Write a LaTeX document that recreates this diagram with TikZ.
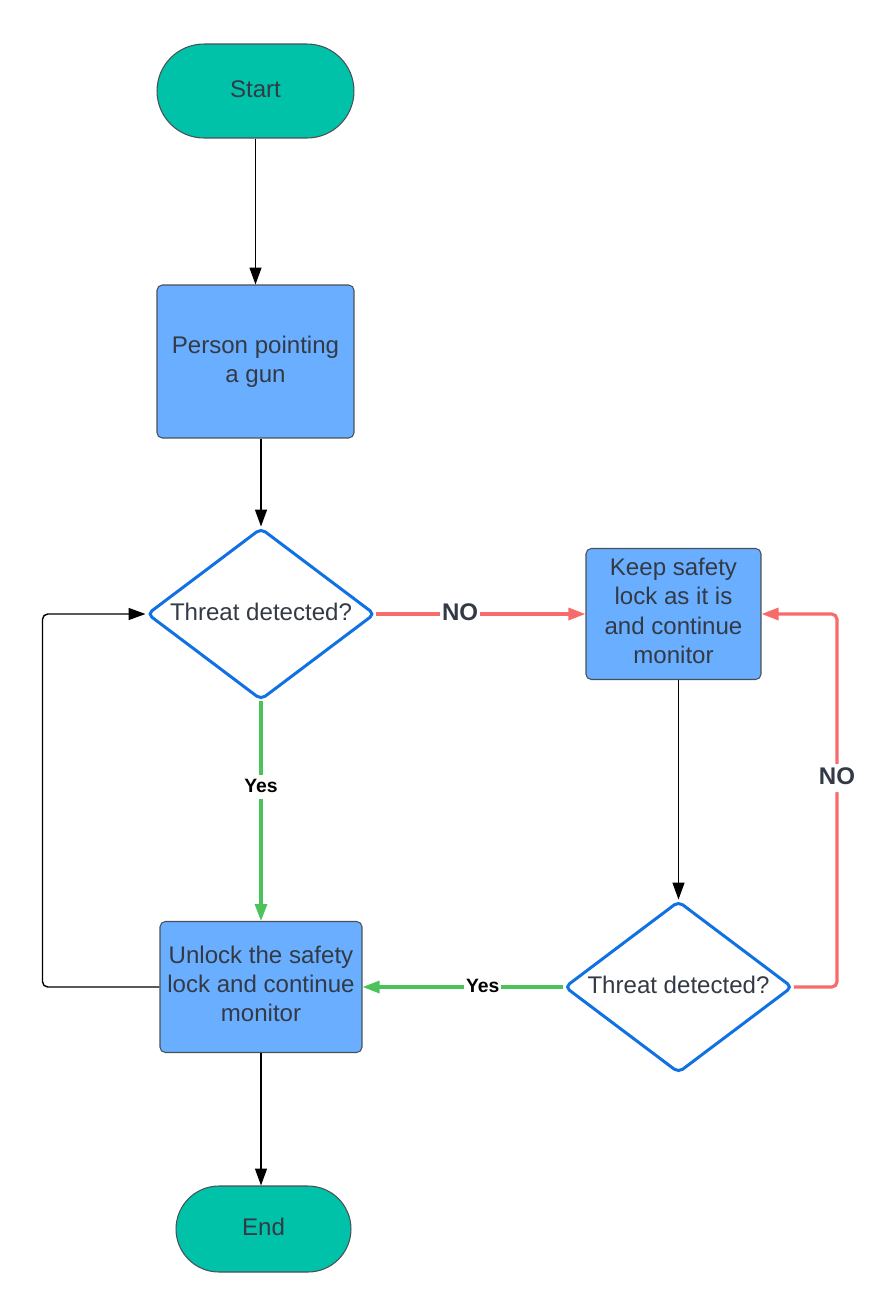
\documentclass[tikz,border=0pt]{standalone}
\usepackage{fontspec}
\setmainfont{Liberation Sans}
\usepackage{xcolor}
\usetikzlibrary{arrows.meta, positioning, calc, shapes.geometric}

\definecolor{termteal}{HTML}{00C2A8}
\definecolor{procblue}{HTML}{6AAEFF}
\definecolor{decblue}{HTML}{1071E5}
\definecolor{noline}{HTML}{F76B6B}
\definecolor{yesline}{HTML}{4CC35A}
\definecolor{txtgray}{HTML}{333A45}
\definecolor{edgegray}{HTML}{4A4F57}

\newcommand{\lowstrut}{\rule[-3.6pt]{0pt}{0pt}}

\begin{document}
\begin{tikzpicture}[x=0.02cm, y=-0.02cm,
  every node/.style={font=\fontsize{13.7}{16.6}\selectfont, text=txtgray},
  term/.style={draw=edgegray, fill=termteal, line width=0.6pt, rounded corners=0.94cm,
    minimum width=3.94cm, minimum height=1.88cm, inner sep=0pt, text height=10.5pt, text depth=3.5pt},
  proc/.style={draw=edgegray, fill=procblue, line width=0.6pt, rounded corners=3pt,
    align=center, inner sep=2pt},
  dec/.style={diamond, aspect=1.33, draw=decblue, fill=white, line width=1.7pt, rounded corners=3pt,
    minimum width=4.56cm, minimum height=3.44cm, inner sep=0pt, text height=10.5pt, text depth=3.5pt},
  arr/.style={-{Triangle[length=0.34cm, width=0.24cm]}, line width=0.8pt, draw=black},
  nopath/.style={arr, draw=noline, line width=1.8pt},
  yespath/.style={arr, draw=yesline, line width=1.8pt},
  nolab/.style={fill=white, inner sep=1pt, text height=10.5pt, text depth=3.5pt,
    font=\bfseries\fontsize{13.7}{16}\selectfont},
  yeslab/.style={fill=white, inner sep=1pt, text=black, text height=8.5pt, text depth=2.8pt,
    font=\bfseries\fontsize{11}{13}\selectfont}]
  \useasboundingbox (0,0) rectangle (884,1296);

  % shapes
  \node[term] (start) at (255.5,91) {Start};
  \node[proc, minimum width=3.94cm, minimum height=3.06cm] (person) at (255.5,361.5) {Person pointing\\a gun};
  \node[dec] (dec1) at (261,614) {Threat detected?};
  \node[proc, minimum width=3.5cm, minimum height=2.62cm] (keep) at (673.5,614) {Keep safety\\lock as it is\\and continue\\monitor\lowstrut};
  \node[dec] (dec2) at (678.5,987) {Threat detected?};
  \node[proc, minimum width=4.04cm, minimum height=2.62cm] (unlock) at (261,987) {Unlock the safety\\lock and continue\\monitor\lowstrut};
  \node[term, minimum width=3.5cm, minimum height=1.72cm, rounded corners=0.86cm] (end) at (263.5,1229) {End};

  % connectors
  \draw[arr] (start) -- (person);
  \draw[arr] (dec1.north |- person.south) -- (dec1.north);
  \draw[nopath] (dec1.east) -- node[nolab, pos=0.4] {NO} (keep.west);
  \draw[arr] (dec2.north |- keep.south) -- (dec2.north);
  \draw[nopath, rounded corners=3pt] (dec2.east) -- ++(43,0) |- node[nolab, pos=0.28] {NO} (keep.east);
  \draw[yespath] (dec1.south) -- node[yeslab, pos=0.39] {Yes} (unlock.north);
  \draw[yespath] (dec2.west) -- node[yeslab, pos=0.4] {Yes} (unlock.east);
  \draw[arr, rounded corners=3pt] (unlock.west) -- ++(-117,0) |- (dec1.west);
  \draw[arr] (unlock.south) -- (unlock.south |- end.north);
\end{tikzpicture}
\end{document}
